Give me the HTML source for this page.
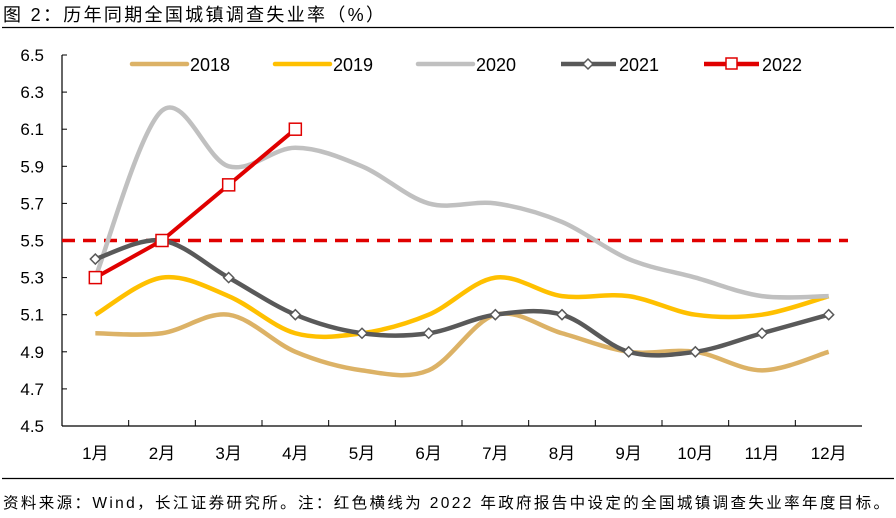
<!DOCTYPE html>
<html><head><meta charset="utf-8"><style>
body{margin:0;background:#fff;}
svg{display:block;font-family:"Liberation Sans","Noto Sans CJK SC",sans-serif;}
</style></head><body>
<svg id="c" width="896" height="518" viewBox="0 0 896 518">
<text x="3" y="21" font-size="18" fill="#000" textLength="381" lengthAdjust="spacing">图 2：历年同期全国城镇调查失业率（%）</text>
<line x1="2" y1="27.5" x2="894" y2="27.5" stroke="#000" stroke-width="1.2"/>
<line x1="2" y1="478.5" x2="894" y2="478.5" stroke="#000" stroke-width="1.2"/>
<text x="3" y="508" font-size="15.5" fill="#000" textLength="886" lengthAdjust="spacing">资料来源：Wind，长江证券研究所。注：红色横线为 2022 年政府报告中设定的全国城镇调查失业率年度目标。</text>
<g id="axes"></g><g id="series"></g><g id="legend"></g>
</svg>
<script>
const categories=["1月","2月","3月","4月","5月","6月","7月","8月","9月","10月","11月","12月"];
const yTicks=[4.5,4.7,4.9,5.1,5.3,5.5,5.7,5.9,6.1,6.3,6.5];
const s2018=[5.0,5.0,5.1,4.9,4.8,4.8,5.1,5.0,4.9,4.9,4.8,4.9];
const s2019=[5.1,5.3,5.2,5.0,5.0,5.1,5.3,5.2,5.2,5.1,5.1,5.2];
const s2020=[5.3,6.2,5.9,6.0,5.9,5.7,5.7,5.6,5.4,5.3,5.2,5.2];
const s2021=[5.4,5.5,5.3,5.1,5.0,5.0,5.1,5.1,4.9,4.9,5.0,5.1];
const s2022=[5.3,5.5,5.8,6.1];
const target=[5.5];
const NS="http://www.w3.org/2000/svg";
const X0=62,X1=862,Y0=426,Y1=55,ymin=4.5,ymax=6.5;
const bw=(X1-X0)/categories.length;
const xs=i=>X0+bw*(i+0.5);
const ys=v=>Y0-(v-ymin)/(ymax-ymin)*(Y0-Y1);
function mk(t,a,p){const e=document.createElementNS(NS,t);for(const k in a)e.setAttribute(k,a[k]);p.appendChild(e);return e;}
const ax=document.getElementById('axes');
const yl=mk('line',{x1:X0,y1:Y1,x2:X0,y2:Y0,stroke:'#000','stroke-width':1.2},ax);


const xl=mk('line',{x1:X0,y1:Y0,x2:X1,y2:Y0,stroke:'#000','stroke-width':1.2},ax);


yTicks.forEach(v=>{
 mk('line',{x1:X0,y1:ys(v),x2:X0+5,y2:ys(v),stroke:'#000'},ax);
 const t=mk('text',{x:X0-18,y:ys(v)+6,'font-size':17,'text-anchor':'end'},ax);t.textContent=v.toFixed(1);
 
 
});
categories.forEach((c,i)=>{
 if(i>0)mk('line',{x1:X0+bw*i,y1:Y0,x2:X0+bw*i,y2:Y0-6,stroke:'#000'},ax);
 const t=mk('text',{x:xs(i),y:Y0+33,'font-size':17,'text-anchor':'middle'},ax);t.textContent=c;
 
 
});
function smooth(arr){
 const p=arr.map((v,i)=>[xs(i),ys(v)]);let d='M'+p[0][0]+','+p[0][1];
 for(let i=0;i<p.length-1;i++){const a=p[i-1]||p[i],b=p[i],c=p[i+1],e=p[i+2]||c;
  const k=1/6;d+=' C'+(b[0]+(c[0]-a[0])*k)+','+(b[1]+(c[1]-a[1])*k)+' '+(c[0]-(e[0]-b[0])*k)+','+(c[1]-(e[1]-b[1])*k)+' '+c[0]+','+c[1];}
 return d;}
const sg=document.getElementById('series');
const tl=mk('line',{x1:X0,y1:ys(target[0]),x2:X1-14,y2:ys(target[0]),stroke:'#e00000','stroke-width':3.5,'stroke-dasharray':'13,8'},sg);


const defs=[["2018",s2018,'#dcb266'],["2019",s2019,'#ffc000'],["2020",s2020,'#c0c0c0'],["2021",s2021,'#595959']];
defs.forEach(([n,arr,col])=>{
 const p=mk('path',{d:smooth(arr),fill:'none',stroke:col,'stroke-width':4.5},sg);
 
 
});
s2021.forEach((v,i)=>{const x=xs(i),y=ys(v);
 const m=mk('path',{d:`M${x},${y-5} L${x+5},${y} L${x},${y+5} L${x-5},${y} Z`,fill:'#fff',stroke:'#595959','stroke-width':1.5},sg);
 
 });
const l22=mk('polyline',{points:s2022.map((v,i)=>xs(i)+','+ys(v)).join(' '),fill:'none',stroke:'#e00000','stroke-width':4},sg);


s2022.forEach((v,i)=>{const m=mk('rect',{x:xs(i)-6,y:ys(v)-6,width:12,height:12,fill:'#fff',stroke:'#e00000','stroke-width':1.5},sg);
 
 });
const lg=document.getElementById('legend');
const leg=[["2018",'#dcb266',132,null],["2019",'#ffc000',275,null],["2020",'#c0c0c0',418,null],["2021",'#595959',561,'d'],["2022",'#e00000',704,'s']];
leg.forEach(([n,col,x,m])=>{const g=mk('g',{},lg);
 
 
 mk('line',{x1:x,y1:64,x2:x+55,y2:64,stroke:col,'stroke-width':4.5,'stroke-linecap':m?'butt':'round'},g);
 if(m==='d')mk('path',{d:`M${x+27},59 L${x+32},64 L${x+27},69 L${x+22},64 Z`,fill:'#fff',stroke:col,'stroke-width':1.5},g);
 if(m==='s')mk('rect',{x:x+22,y:58,width:11,height:11,fill:'#fff',stroke:col,'stroke-width':1.5},g);
 const t=mk('text',{x:x+58,y:71,'font-size':18},g);t.textContent=n;});
</script>
</body></html>
